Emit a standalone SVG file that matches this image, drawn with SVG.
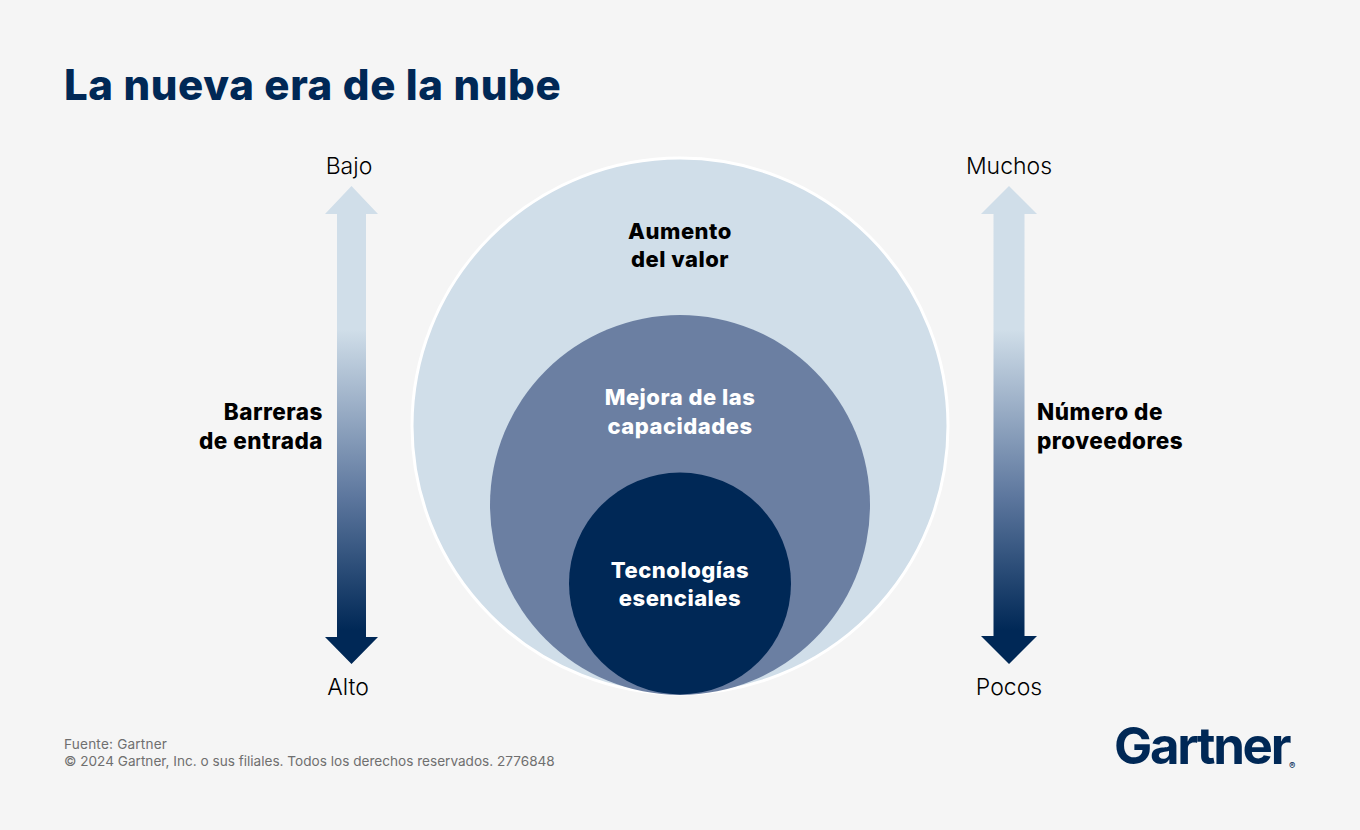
<svg xmlns="http://www.w3.org/2000/svg" width="1360" height="830" viewBox="0 0 1360 830">
<defs>
<linearGradient id="g" gradientUnits="userSpaceOnUse" x1="0" y1="186" x2="0" y2="664">
<stop offset="0" stop-color="#d0dee9"/><stop offset="0.3" stop-color="#d0dee9"/><stop offset="0.65" stop-color="#5d779e"/><stop offset="0.93" stop-color="#002856"/><stop offset="1" stop-color="#002856"/>
</linearGradient>
</defs>
<style>
text{font-family:Inter,"Liberation Sans",sans-serif}
.b{font-size:22.500px;font-weight:800;fill:#000;letter-spacing:.5px}
.c{font-size:22px;font-weight:800;text-anchor:middle;letter-spacing:.5px}
.l{font-size:23px;fill:#000;text-anchor:middle;font-weight:300}
.f{font-size:13.600px;fill:#6f6f6f}
</style>
<rect width="1360" height="830" fill="#f5f5f5"/>
<text x="64" y="100" font-size="42" font-weight="800" fill="#002856" letter-spacing=".62">La nueva era de la nube</text>
<g id="connectors">
<path id="arrow-left" fill="url(#g)" d="M351.500 186L378 214H366V637H378L351.500 664L325 637H337V214H325Z"/>
<path id="arrow-right" fill="url(#g)" d="M1009 186L1037 214H1024.500V636H1037L1009 664L981 636H993.500V214H981Z"/>
</g>
<g id="node-valor">
<circle cx="680" cy="426" r="268" fill="#d0dee9" stroke="#fff" stroke-width="3"/>
<text class="c" x="680" y="239" fill="#000">Aumento</text>
<text class="c" x="680" y="267" fill="#000">del valor</text>
</g>
<g id="node-capacidades">
<circle cx="680" cy="505" r="190" fill="#6b7fa2"/>
<text class="c" x="680" y="405" fill="#fff">Mejora de las</text>
<text class="c" x="680" y="434" fill="#fff">capacidades</text>
</g>
<g id="node-tecnologias">
<circle cx="680" cy="583.500" r="111" fill="#002856"/>
<text class="c" x="680" y="578" fill="#fff">Tecnologías</text>
<text class="c" x="680" y="606" fill="#fff">esenciales</text>
</g>
<g id="label-barreras">
<text class="l" x="349" y="173.500">Bajo</text>
<text class="l" x="348" y="694.500">Alto</text>
<text class="b" x="323" y="420" text-anchor="end">Barreras</text>
<text class="b" x="323" y="449" text-anchor="end">de entrada</text>
</g>
<g id="label-proveedores">
<text class="l" x="1009" y="173.500">Muchos</text>
<text class="l" x="1009" y="694.500">Pocos</text>
<text class="b" x="1037" y="420">Número de</text>
<text class="b" x="1037" y="449">proveedores</text>
</g>
<text class="f" x="64" y="749" letter-spacing=".2">Fuente: Gartner</text>
<text class="f" x="64" y="766">© 2024 Gartner, Inc. o sus filiales. Todos los derechos reservados. 2776848</text>
<g id="logo">
<text x="1114" y="764" font-size="51" font-weight="700" fill="#002856" letter-spacing="-2.300">Gartner</text>
<text x="1289" y="769" font-size="9.500" font-weight="500" fill="#002856">®</text>
</g>
</svg>
